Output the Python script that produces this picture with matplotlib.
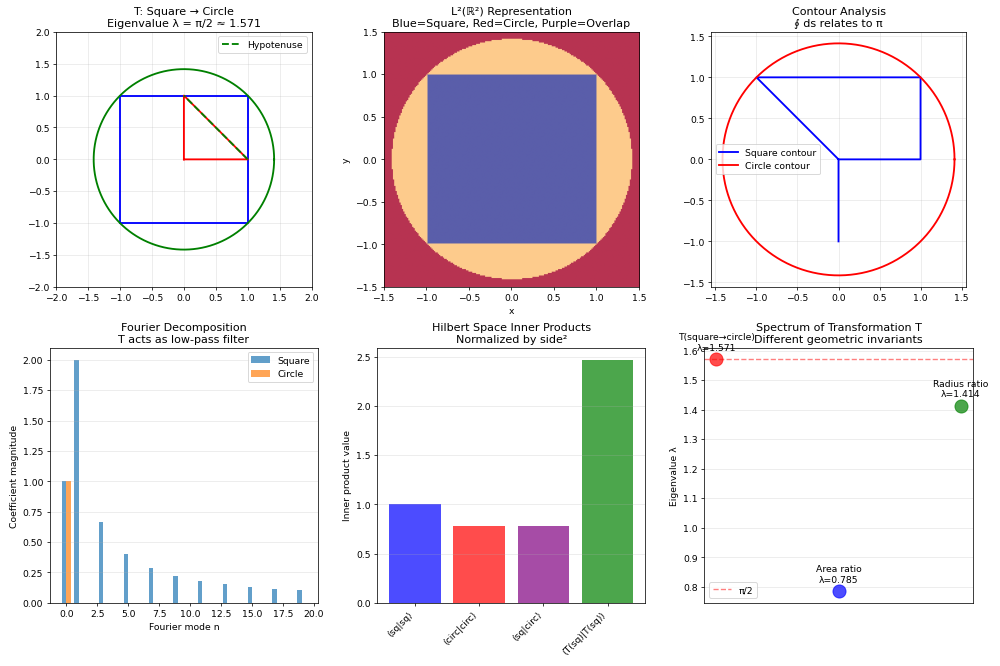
import numpy as np
import matplotlib
matplotlib.use('Agg')
import matplotlib.pyplot as plt

# ─────────────────────────────────────────────
# DATOS
# ─────────────────────────────────────────────
# Cuadrado, triángulo y contorno
square_x = [-1, 1, 1, -1, -1]
square_y = [-1, -1, 1, 1, -1]
tri_x = [0, 1, 0, 0]
tri_y = [0, 0, 1, 0]
hyp_x = [1, 0]
hyp_y = [0, 1]
radius = np.sqrt(2)

contour_x = [0, 0, 1, 1, -1, 0]
contour_y = [-1, 0, 0, 1, 1, 0]

# Fourier (modos 0..19)
modes = list(range(20))
coef_square = [1.0, 2.0, 0, 0.667, 0, 0.4, 0, 0.286, 0, 0.222,
               0, 0.182, 0, 0.154, 0, 0.133, 0, 0.118, 0, 0.105]
coef_circle = [1.0] + [0] * 19

# Productos internos
ip_labels = ['⟨sq|sq⟩', '⟨circ|circ⟩', '⟨sq|circ⟩', '⟨T(sq)|T(sq)⟩']
ip_values = [1.0, 0.785, 0.785, 2.467]
ip_colors = ['blue', 'red', 'purple', 'green']

# Espectro
spec_labels = ['T(square→circle)\nλ=1.571', 'Area ratio\nλ=0.785', 'Radius ratio\nλ=1.414']
spec_values = [1.571, 0.785, 1.414]
spec_colors = ['red', 'blue', 'green']

fig, axes = plt.subplots(2, 3, figsize=(15, 10), dpi=66.67)
theta = np.linspace(0, 2 * np.pi, 400)

# 1. Cuadrado -> círculo
ax = axes[0, 0]
ax.plot(square_x, square_y, 'b-', lw=2)
ax.plot(radius * np.cos(theta), radius * np.sin(theta), 'g-', lw=2)
ax.plot(tri_x, tri_y, 'r-', lw=2)
ax.plot(hyp_x, hyp_y, 'g--', lw=2, label='Hypotenuse')
ax.set_xlim(-2, 2)
ax.set_ylim(-2, 2)
ax.set_aspect('equal')
ax.grid(True, alpha=0.3)
ax.legend(loc='upper right')
ax.set_title('T: Square → Circle\nEigenvalue λ = π/2 ≈ 1.571')

# 2. Representación L2
ax = axes[0, 1]
g = np.linspace(-1.5, 1.5, 200)
X, Y = np.meshgrid(g, g)
sq = ((np.abs(X) <= 1) & (np.abs(Y) <= 1)).astype(float)
circ = (X**2 + Y**2 <= 2).astype(float)
ax.imshow(circ + 2 * sq, extent=[-1.5, 1.5, -1.5, 1.5], origin='lower',
          cmap='RdYlBu', alpha=0.8, vmin=0, vmax=3)
ax.set_xlabel('x')
ax.set_ylabel('y')
ax.set_title('L²(ℝ²) Representation\nBlue=Square, Red=Circle, Purple=Overlap')

# 3. Contornos
ax = axes[0, 2]
ax.plot(contour_x, contour_y, 'b-', lw=2, label='Square contour')
ax.plot(radius * np.cos(theta), radius * np.sin(theta), 'r-', lw=2, label='Circle contour')
ax.set_aspect('equal')
ax.grid(True, alpha=0.3)
ax.legend(loc='center left')
ax.set_title('Contour Analysis\n∮ ds relates to π')

# 4. Fourier
ax = axes[1, 0]
w = 0.35
ax.bar(np.array(modes) - w / 2, coef_square, width=w, alpha=0.7, label='Square')
ax.bar(np.array(modes) + w / 2, coef_circle, width=w, alpha=0.7, label='Circle')
ax.set_xlabel('Fourier mode n')
ax.set_ylabel('Coefficient magnitude')
ax.set_title('Fourier Decomposition\nT acts as low-pass filter')
ax.legend()
ax.grid(True, alpha=0.3, axis='y')

# 5. Productos internos
ax = axes[1, 1]
ax.bar(range(len(ip_values)), ip_values, color=ip_colors, alpha=0.7)
ax.set_xticks(range(len(ip_values)))
ax.set_xticklabels(ip_labels, rotation=45, ha='right')
ax.set_ylabel('Inner product value')
ax.set_title('Hilbert Space Inner Products\nNormalized by side²')
ax.grid(True, alpha=0.3, axis='y')

# 6. Espectro
ax = axes[1, 2]
for i, (val, lab, col) in enumerate(zip(spec_values, spec_labels, spec_colors)):
    ax.scatter(i, val, s=200, color=col, alpha=0.7, zorder=3)
    ax.annotate(lab, (i, val), textcoords='offset points', xytext=(0, 10), ha='center')
ax.axhline(np.pi / 2, color='r', linestyle='--', alpha=0.5, label='π/2')
ax.set_xticks([])
ax.set_ylabel('Eigenvalue λ')
ax.set_title('Spectrum of Transformation T\nDifferent geometric invariants')
ax.legend(loc='lower left')
ax.grid(True, alpha=0.3)

plt.tight_layout()
plt.savefig('out.png', dpi=66.67)
plt.close()
